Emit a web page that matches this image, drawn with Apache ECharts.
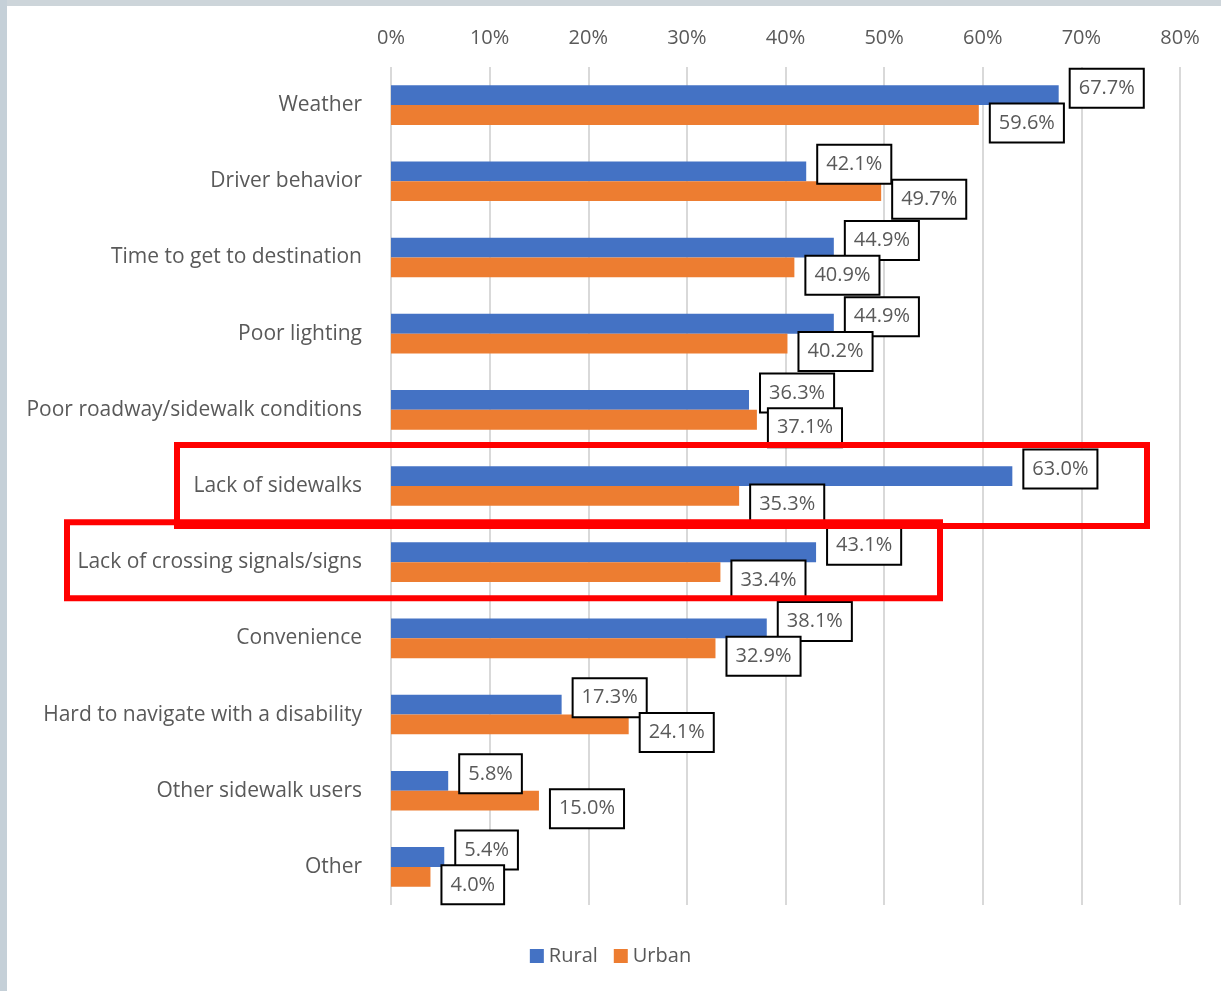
<!DOCTYPE html>
<html>
<head>
<meta charset="utf-8">
<script src="https://cdn.jsdelivr.net/npm/echarts@6/dist/echarts.min.js"></script>
<style>
html,body{margin:0;padding:0;background:#fff;}
#chart{width:1221px;height:991px;}
</style>
</head>
<body>
<div id="chart"></div>
<script>
const categories = [
  'Weather',
  'Driver behavior',
  'Time to get to destination',
  'Poor lighting',
  'Poor roadway/sidewalk conditions',
  'Lack of sidewalks',
  'Lack of crossing signals/signs',
  'Convenience',
  'Hard to navigate with a disability',
  'Other sidewalk users',
  'Other'
];
const rural = [67.7, 42.1, 44.9, 44.9, 36.3, 63.0, 43.1, 38.1, 17.3, 5.8, 5.4];
const urban = [59.6, 49.7, 40.9, 40.2, 37.1, 35.3, 33.4, 32.9, 24.1, 15.0, 4.0];
const highlighted = ['Lack of sidewalks', 'Lack of crossing signals/signs'];

const FONT = 'Open Sans';
const TXT = '#595959';

function boxLabel(dy) {
  return {
    show: true,
    position: 'right',
    distance: 12,
    offset: [0, dy],
    formatter: p => p.value.toFixed(1) + '%',
    fontFamily: FONT,
    fontSize: 20,
    lineHeight: 26,
    color: TXT,
    backgroundColor: '#fff',
    borderColor: '#000',
    borderWidth: 2,
    padding: [6, 8, 5, 8]
  };
}

const chart = echarts.init(document.getElementById('chart'));
chart.setOption({
  animation: false,
  backgroundColor: '#fff',
  grid: { left: 391, right: 41, top: 67, bottom: 86 },
  legend: {
    bottom: 20,
    left: 'center',
    itemWidth: 14,
    itemHeight: 14,
    itemGap: 16,
    icon: 'rect',
    textStyle: { fontFamily: FONT, fontSize: 20, color: TXT },
    data: ['Rural', 'Urban']
  },
  xAxis: {
    type: 'value',
    position: 'top',
    min: 0, max: 80, interval: 10,
    axisLine: { show: false },
    axisTick: { show: false },
    axisLabel: { formatter: '{value}%', fontFamily: FONT, fontSize: 20, color: TXT, margin: 19 },
    splitLine: { lineStyle: { color: '#d9d9d9', width: 2 } }
  },
  yAxis: {
    type: 'category',
    inverse: true,
    data: categories,
    axisLine: { show: false },
    axisTick: { show: false },
    axisLabel: { fontFamily: FONT, fontSize: 21, color: TXT, margin: 29 }
  },
  series: [
    {
      name: 'Rural', type: 'bar', data: rural,
      itemStyle: { color: '#4472C4' },
      barGap: '0%', barCategoryGap: '48%',
      label: boxLabel(-7)
    },
    {
      name: 'Urban', type: 'bar', data: urban,
      itemStyle: { color: '#ED7D31' },
      barGap: '0%', barCategoryGap: '48%',
      label: boxLabel(8)
    }
  ]
});

// annotation overlays
const yA = chart.convertToPixel({ yAxisIndex: 0 }, highlighted[0]);
const yB = chart.convertToPixel({ yAxisIndex: 0 }, highlighted[1]);
chart.setOption({
  graphic: [
    { type: 'rect', z: -10, shape: { x: 0, y: 0, width: 1221, height: 6 }, style: { fill: '#cdd5da' } },
    { type: 'rect', z: -10, shape: { x: 0, y: 0, width: 7, height: 991 }, style: { fill: '#c5d0d8' } },
    { type: 'rect', z: 100, shape: { x: 177, y: yA - 41, width: 970, height: 81 }, style: { fill: 'none', stroke: '#ff0000', lineWidth: 6 } },
    { type: 'rect', z: 100, shape: { x: 67, y: yB - 40, width: 873, height: 76 }, style: { fill: 'none', stroke: '#ff0000', lineWidth: 6 } }
  ]
});
</script>
</body>
</html>
